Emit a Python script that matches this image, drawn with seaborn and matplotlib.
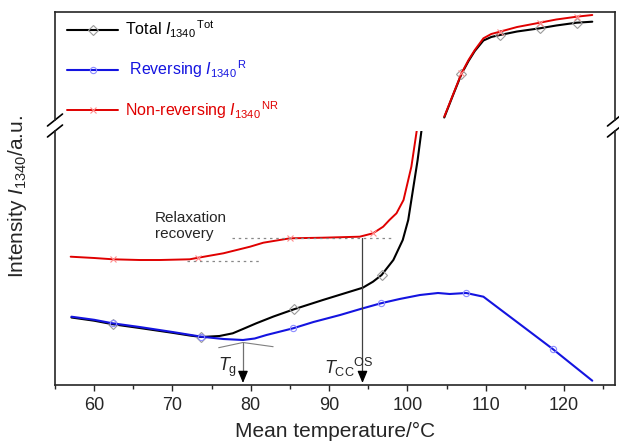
import matplotlib
matplotlib.use("Agg")
import matplotlib.pyplot as plt
import numpy as np
import seaborn as sns
from matplotlib.lines import Line2D

# lower part of the broken axis: mean temperature (degC) / intensity (a.u.)
temp_rev = [57.1, 60.0, 62.35, 65.8, 70.0, 73.7, 76.5, 79.0, 80.5, 82.0, 85.4, 88.0, 91.4,
            94.0, 96.6, 99.0, 101.6, 103.9, 105.4, 107.5, 109.7, 112.0, 115.0, 118.6, 121.0, 123.6]
int_rev = [0.683, 0.652, 0.617, 0.580, 0.530, 0.483, 0.460, 0.450, 0.465, 0.500, 0.567, 0.630, 0.700,
           0.760, 0.817, 0.860, 0.900, 0.920, 0.910, 0.920, 0.883, 0.747, 0.570, 0.357, 0.206, 0.043]

temp_tot = [57.1, 60.0, 62.35, 65.8, 70.0, 72.2, 73.7, 76.0, 77.7, 79.0, 80.7, 82.9, 85.5,
            89.2, 94.3, 95.6, 96.7, 98.2, 99.4, 100.1, 100.7, 101.3, 101.8, 102.2]
int_tot = [0.675, 0.643, 0.608, 0.570, 0.522, 0.495, 0.480, 0.490, 0.517, 0.560, 0.617, 0.685, 0.757,
           0.850, 0.973, 1.033, 1.100, 1.250, 1.450, 1.650, 1.950, 2.250, 2.550, 2.800]

temp_nr = [57.0, 60.0, 62.4, 65.8, 68.4, 72.2, 73.3, 76.5, 79.9, 81.6, 85.0, 89.2, 93.9,
           95.6, 96.9, 97.7, 98.6, 99.5, 100.5, 101.2, 101.6]
int_nr = [1.283, 1.270, 1.257, 1.250, 1.250, 1.257, 1.273, 1.317, 1.383, 1.423, 1.467, 1.473, 1.483,
          1.517, 1.583, 1.650, 1.717, 1.850, 2.183, 2.550, 2.800]

# upper part of the broken axis
temp_top = [104.7, 105.8, 106.9, 107.8, 108.6, 109.7, 110.7, 111.8, 114.0, 116.9, 119.0, 121.6, 123.6]
int_tot_top = [2.675, 2.895, 3.110, 3.240, 3.340, 3.445, 3.480, 3.500, 3.535, 3.567, 3.595, 3.623, 3.633]
int_nr_top = [2.683, 2.900, 3.117, 3.250, 3.350, 3.467, 3.510, 3.533, 3.580, 3.623, 3.655, 3.683, 3.700]

# temperatures carrying the open symbols
mark_rev = [62.35, 73.7, 85.4, 96.6, 107.5, 118.6]
mark_tot = [62.35, 73.7, 85.5, 96.7, 106.9, 111.8, 116.9, 121.6]
mark_nr = [62.4, 73.3, 85.0, 95.6, 106.9, 111.8, 116.9, 121.6]

# Tg construction and onset of cold crystallisation
tangent_temp = [75.9, 79.0, 82.85]
tangent_int = [0.373, 0.425, 0.383]
t_g = 79.0
t_cc = 94.26
nr_low, nr_low_span = 1.245, (71.8, 81.3)
nr_high, nr_high_span = 1.467, (77.6, 98.2)

BLACK, BLUE, RED = "#000000", "#1414e0", "#e00000"


def marks_at(temps, marks):
    return list(np.flatnonzero(np.isin(temps, marks)))


sns.set_style("ticks")
plt.rcParams["font.family"] = ["Liberation Sans", "DejaVu Sans"]
plt.rcParams["mathtext.fontset"] = "custom"
plt.rcParams["mathtext.rm"] = "Liberation Sans"
plt.rcParams["mathtext.it"] = "Liberation Sans:italic"
plt.rcParams["mathtext.bf"] = "Liberation Sans:bold"
plt.rcParams["axes.linewidth"] = 1.2

fig = plt.figure(figsize=(6.19, 4.46), dpi=100)
W, H = 619, 446
left, width = 55 / W, 560 / W
ax_lo = fig.add_axes([left, 61 / H, width, 254 / H])
ax_hi = fig.add_axes([left, 326 / H, width, 108 / H], sharex=ax_lo)

line_kw = dict(errorbar=None, legend=False, mfc="none", mew=0.8)
sns.lineplot(x=temp_nr, y=int_nr, ax=ax_lo, color=RED, lw=1.4, marker="x", ms=4.5,
             mec="#ff8c8c", markevery=marks_at(temp_nr, mark_nr), **line_kw)
sns.lineplot(x=temp_tot, y=int_tot, ax=ax_lo, color=BLACK, lw=1.5, marker="D", ms=5,
             mec="#9a9a9a", markevery=marks_at(temp_tot, mark_tot), **line_kw)
sns.lineplot(x=temp_rev, y=int_rev, ax=ax_lo, color=BLUE, lw=1.5, marker="o", ms=4.5,
             mec="#8c8cff", markevery=marks_at(temp_rev, mark_rev), **line_kw)

sns.lineplot(x=temp_top, y=int_tot_top, ax=ax_hi, color=BLACK, lw=1.5, marker="D", ms=5,
             mec="#9a9a9a", markevery=marks_at(temp_top, mark_tot), **line_kw)
sns.lineplot(x=temp_top, y=int_nr_top, ax=ax_hi, color=RED, lw=1.4, marker="x", ms=4.5,
             mec="#ff8c8c", markevery=marks_at(temp_top, mark_nr), **line_kw)

ax_lo.set_xlim(55, 126.5)
ax_lo.set_ylim(0, 2.54)
ax_hi.set_ylim(2.65, 3.73)

# annotations
ax_lo.plot(nr_high_span, [nr_high, nr_high], color="#888888", lw=0.9, ls=(0, (2, 3)))
ax_lo.plot(nr_low_span, [nr_low, nr_low], color="#888888", lw=0.9, ls=(0, (2, 3)))
ax_lo.text(67.75, 1.59, "Relaxation\nrecovery", fontsize=11, ha="left", va="center",
           linespacing=1.25)
ax_lo.plot(tangent_temp, tangent_int, color="#808080", lw=0.8)
arrow = dict(arrowstyle="-|>,head_length=0.6,head_width=0.25", color="black", lw=0.9,
             mutation_scale=12, shrinkA=0, shrinkB=0)
for t0, y0, c in [(t_g, tangent_int[1], "#707070"), (t_cc, nr_high, "#404040")]:
    ax_lo.plot([t0, t0], [y0, 0.09], color=c, lw=0.9)
    ax_lo.annotate("", xy=(t0, 0.02), xytext=(t0, 0.10), arrowprops=arrow)
ax_lo.text(75.8, 0.18, r"$T_{\mathrm{g}}$", fontsize=13, ha="left", va="center")
ax_lo.text(89.4, 0.18, r"$T_{\mathrm{CC}}{}^{\mathrm{OS}}$", fontsize=13, ha="left", va="center")

# axes cosmetics for the broken y axis
ax_lo.spines["top"].set_visible(False)
ax_hi.spines["bottom"].set_visible(False)
ax_lo.set_yticks([])
ax_hi.set_yticks([])
ax_lo.set_xticks(np.arange(60, 121, 10))
ax_lo.set_xticks(np.arange(55, 126, 5), minor=True)
ax_lo.tick_params(axis="x", which="major", direction="out", length=4, width=1.0,
                  labelsize=13, pad=5)
ax_lo.tick_params(axis="x", which="minor", direction="out", length=3, width=1.0)
ax_hi.tick_params(axis="x", which="both", bottom=False, labelbottom=False)
ax_lo.set_xlabel("Mean temperature/°C", fontsize=15, labelpad=5)
fig.text(18 / W, 1 - 196 / H, r"Intensity $I_{1340}$/a.u.", fontsize=15, rotation=90,
         ha="center", va="center")

dx = 7.5 / 560
for ax, yb, dy in [(ax_hi, 0, 6 / 108), (ax_lo, 1, 6 / 254)]:
    for xb in (0, 1):
        ax.plot([xb - dx, xb + dx], [yb - dy, yb + dy], transform=ax.transAxes,
                color="black", lw=1.2, clip_on=False)

handles = [
    Line2D([], [], color=BLACK, lw=1.5, marker="D", ms=5, mfc="none", mec="#9a9a9a", mew=0.8),
    Line2D([], [], color=BLUE, lw=1.5, marker="o", ms=4.5, mfc="none", mec="#8c8cff", mew=0.8),
    Line2D([], [], color=RED, lw=1.4, marker="x", ms=4.5, mfc="none", mec="#ff8c8c", mew=0.8),
]
labels = [
    r"Total $I_{1340}{}^{\,\mathrm{Tot}}$",
    r" Reversing $I_{1340}{}^{\,\mathrm{R}}$",
    r"Non-reversing $I_{1340}{}^{\,\mathrm{NR}}$",
]
ax_hi.legend(handles, labels, loc="upper left", bbox_to_anchor=(0.0214, 0.935), frameon=False,
             fontsize=11.5, labelcolor=[BLACK, BLUE, RED], handlelength=3.2, handletextpad=0.45,
             labelspacing=1.15, borderpad=0, borderaxespad=0, numpoints=1)

fig.savefig("out.png", dpi=100)
